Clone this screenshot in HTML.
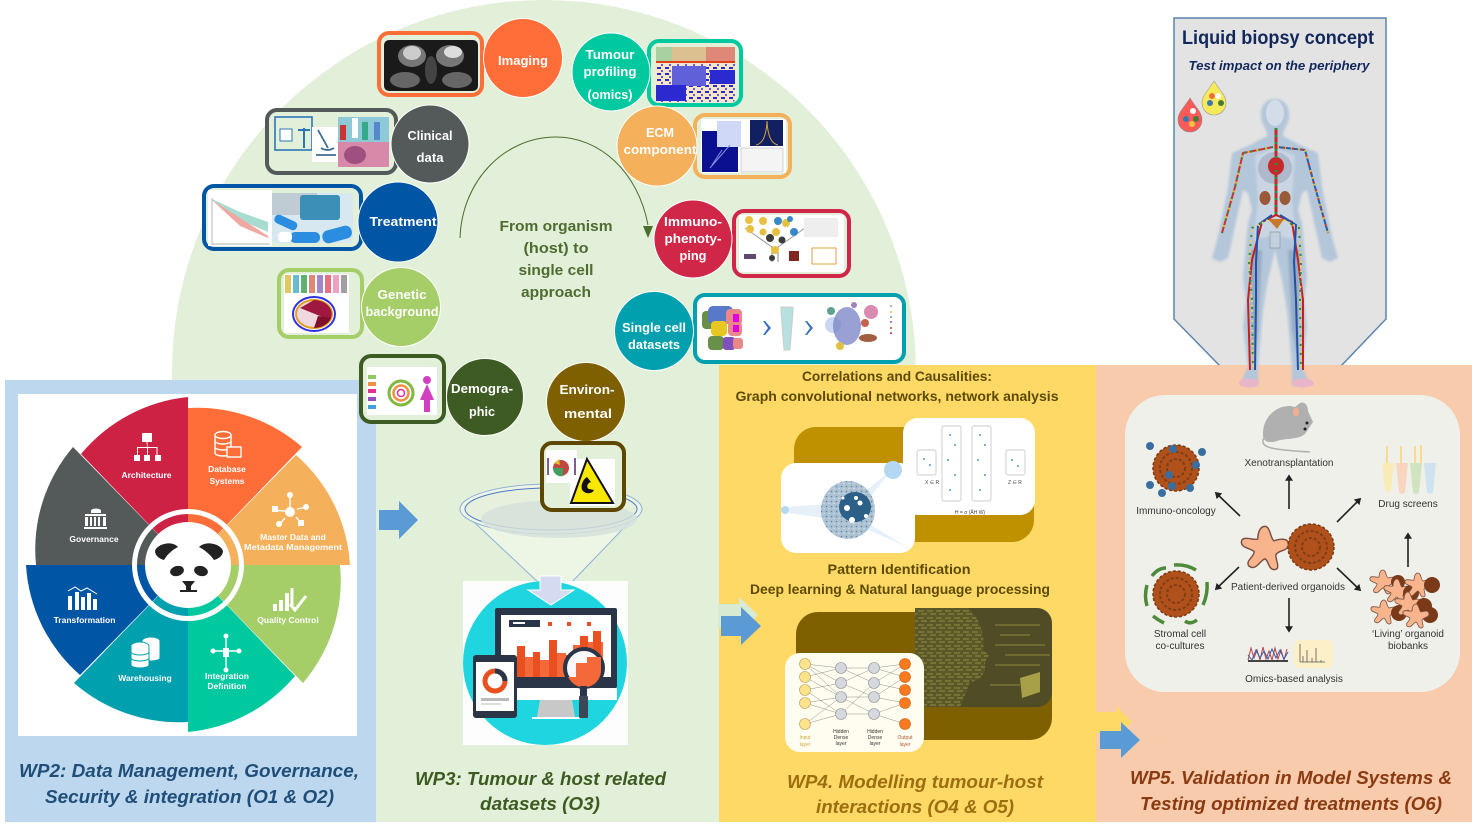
<!DOCTYPE html>
<html><head><meta charset="utf-8"><style>
html,body{margin:0;padding:0;background:#fff;width:1472px;height:833px;overflow:hidden}
svg{display:block;filter:blur(.35px)}
text{font-family:"Liberation Sans",sans-serif}
.c{fill:#fff;font-weight:bold;font-size:13px;text-anchor:middle}
.w{fill:#fff;font-size:8.5px;font-weight:bold;text-anchor:middle}
.h{font-size:18px;font-weight:bold;font-style:italic;text-anchor:middle}
.y{fill:#5c4a00;font-weight:bold;font-size:14px;text-anchor:middle}
.o{fill:#333;font-size:10px;text-anchor:middle}
</style></head><body>
<svg width="1472" height="833" viewBox="0 0 1472 833" xmlns="http://www.w3.org/2000/svg">
<defs>
<marker id="ah" markerWidth="5" markerHeight="5" refX="3" refY="2.5" orient="auto"><path d="M0 0L4 2.5L0 5Z" fill="#222"/></marker>
<pattern id="hm" width="8" height="6" patternUnits="userSpaceOnUse"><rect width="8" height="6" fill="#f5e6c8"/><rect x="1" y="1" width="4" height="2" fill="#2a2ad0"/><rect x="5" y="4" width="2" height="2" fill="#5c5ce0"/></pattern>
<pattern id="sp" width="5" height="5" patternUnits="userSpaceOnUse"><rect width="5" height="5" fill="#9fb8cc"/><circle cx="1.500" cy="1.500" r=".8" fill="#4f6f88"/><circle cx="4" cy="3.500" r=".6" fill="#dfeaf2"/></pattern>
<pattern id="ci" width="9" height="7" patternUnits="userSpaceOnUse"><rect width="9" height="7" fill="#5a5828"/><path d="M0 2H6M3 5H9" stroke="#a8a048" stroke-width=".8"/></pattern>
<filter id="bb" x="-10%" y="-10%" width="120%" height="120%"><feGaussianBlur stdDeviation="1.200"/></filter>
<g id="org"><circle r="23" fill="#b0501a"/><circle r="23" fill="none" stroke="#7a3a12" stroke-width="1.500" stroke-dasharray="3 2"/><circle r="16" fill="none" stroke="#7f3e14" stroke-width="2" stroke-dasharray="3 2"/><circle r="9" fill="none" stroke="#7f3e14" stroke-width="2" stroke-dasharray="3 2"/></g>
<path id="star" d="M0-12C3-12 3-5 5-4C8-5 13-6 13-2C13 2 7 1 6 4C6 7 9 12 5 12C2 12 2 7 0 6C-3 7-5 13-9 10C-11 7-6 5-6 2C-8 0-14 0-13-4C-12-7-6-4-4-5C-4-8-3-12 0-12Z" fill="#f8b48c" stroke="#7a5040" stroke-width=".8"/>
</defs>
<rect width="1472" height="833" fill="#fff"/>
<circle cx="544" cy="372" r="372" fill="#e2efd9"/>
<rect x="376" y="370" width="343" height="452" fill="#e2efd9"/>
<rect x="5" y="380" width="371" height="442" fill="#bdd7ee"/>
<rect x="719" y="365" width="377" height="457" fill="#ffd966"/>
<rect x="1096" y="365" width="376" height="457" fill="#f8cbad"/>

<!-- WP2 wheel -->
<rect x="18" y="394" width="339" height="342" fill="#fff"/>
<path d="M188 565L188 408A160 160 0 0 1 302 447Z" fill="#ff6e39"/>
<path d="M188 565L296 455A158 158 0 0 1 350 565Z" fill="#f4b05a"/>
<path d="M188 565L340 565A158 158 0 0 1 303 683Z" fill="#a5cd68"/>
<path d="M188 565L295 676A160 160 0 0 1 188 732Z" fill="#00c9a0"/>
<path d="M188 565L188 722A160 160 0 0 1 74 683Z" fill="#00a0ae"/>
<path d="M188 565L80 675A158 158 0 0 1 26 565Z" fill="#0055a5"/>
<path d="M188 565L36 565A158 158 0 0 1 73 447Z" fill="#54595a"/>
<path d="M188 565L81 454A160 160 0 0 1 188 397Z" fill="#cd2244"/>
<circle cx="188" cy="565" r="53.500" fill="none" stroke="#fff" stroke-width="5"/>
<circle cx="188" cy="565" r="43" fill="#fff"/>
<path d="M155 551C157 544 172 540 178 547C174 549 168 553 164 560C160 559 155 556 155 551Z" fill="#222"/>
<path d="M223 551C221 544 206 540 199 547C203 549 209 553 214 560C218 559 223 556 223 551Z" fill="#222"/>
<ellipse cx="177" cy="571" rx="7" ry="5" fill="#222" transform="rotate(-15 177 571)"/>
<ellipse cx="201" cy="571" rx="7" ry="5" fill="#222" transform="rotate(15 201 571)"/>
<path d="M182 581H195L191 586V590H197V592H180V590H186V586Z" fill="#222"/>
<g fill="#fff">
<rect x="142" y="433" width="10" height="9"/><rect x="134" y="455" width="6" height="6"/><rect x="144" y="455" width="6" height="6"/><rect x="155" y="455" width="6" height="6"/>
<path d="M146.500 442h1v5h10v8h-1v-7h-8.500v7h-1v-7h-9v7h-1v-8h10z"/>
<path d="M91 510a9 9 0 0 1 10 0v3H91zM85 514h21v2H85zM85 517h3v9h-3zM90 517h2v9h-2zM94 517h2v9h-2zM98 517h2v9h-2zM103 517h3v9h-3zM84 527h23v2H84z"/>
<rect x="68" y="596" width="4" height="14"/><rect x="75" y="592" width="4" height="18"/><rect x="81" y="597" width="4" height="13"/><rect x="87" y="593" width="4" height="17"/><rect x="93" y="599" width="4" height="11"/>
<rect x="273" y="604" width="4" height="7"/><rect x="279" y="600" width="4" height="11"/><rect x="285" y="593" width="4" height="18"/>
</g>
<path d="M68 591L75 587L81 591L87 588L97 594" fill="none" stroke="#fff" stroke-width="1"/>
<path d="M290 604L295 610L306 596" fill="none" stroke="#fff" stroke-width="3"/>
<path d="M292 588V605" stroke="#fff" stroke-width="3"/>
<g fill="none" stroke="#fff" stroke-width="1.400">
<ellipse cx="223" cy="435" rx="8" ry="3.500"/><path d="M215 435V453A8 3 0 0 0 231 453V435M215 441A8 3 0 0 0 231 441M215 447A8 3 0 0 0 231 447"/>
<rect x="227" y="447" width="14" height="10" fill="#ff6e39"/>
<path d="M290 495V510M272 510L285 511M297 509L307 507M285 518L279 525M296 517L301 523"/>
<path d="M226 635V671M211 651H240"/>
</g>
<g fill="#fff">
<circle cx="290" cy="512" r="5"/><circle cx="290" cy="495" r="3"/><rect x="272" y="506" width="6" height="6"/><circle cx="306" cy="507" r="3"/><circle cx="279" cy="524" r="3"/><rect x="298" y="520" width="6" height="6"/>
<rect x="223" y="648" width="6" height="9"/><circle cx="226" cy="636" r="2.500"/><circle cx="226" cy="670" r="2.500"/><circle cx="213" cy="651" r="2.500"/><circle cx="239" cy="651" r="2.500"/>
</g>
<g fill="#fff" stroke="#00a0ae" stroke-width="1"><ellipse cx="151" cy="641" rx="9" ry="4"/><path d="M142 641V658A9 3 0 0 0 160 658V641"/><ellipse cx="140" cy="646" rx="9" ry="4"/><path d="M131 646V665A9 3 0 0 0 149 665V646"/><path d="M131 652A9 3 0 0 0 149 652M131 658A9 3 0 0 0 149 658" fill="none"/></g>
<text class="w" x="146.500" y="478">Architecture</text>
<text class="w" x="227" y="472">Database</text><text class="w" x="227" y="484">Systems</text>
<text class="w" x="293" y="540">Master Data and</text><text class="w" x="293" y="550" textLength="98" lengthAdjust="spacingAndGlyphs">Metadata Management</text>
<text class="w" x="288" y="623">Quality Control</text>
<text class="w" x="227" y="679">Integration</text><text class="w" x="227" y="689">Definition</text>
<text class="w" x="145" y="681">Warehousing</text>
<text class="w" x="84.500" y="623">Transformation</text>
<text class="w" x="94" y="542">Governance</text>

<!-- thumbnails top -->
<rect x="379" y="33" width="103" height="62" rx="10" fill="#e2efd9" stroke="#ff6e39" stroke-width="4"/>
<rect x="384" y="40" width="94" height="51" rx="5" fill="#1a1a1a"/>
<ellipse cx="412" cy="56" rx="14" ry="11" fill="#777"/><ellipse cx="412" cy="53" rx="9" ry="7" fill="#ccc"/>
<ellipse cx="450" cy="56" rx="14" ry="11" fill="#777"/><ellipse cx="453" cy="52" rx="9" ry="6" fill="#ddd"/>
<ellipse cx="405" cy="80" rx="15" ry="8" fill="#666"/><ellipse cx="457" cy="80" rx="15" ry="8" fill="#666"/><ellipse cx="431" cy="70" rx="6" ry="14" fill="#444"/>

<rect x="267" y="110" width="129" height="63" rx="10" fill="#e2efd9" stroke="#54595a" stroke-width="4"/>
<rect x="275" y="117" width="37" height="33" fill="#e2efd9" stroke="#2e75b6" stroke-width="1.600"/><rect x="280" y="129" width="12" height="12" fill="#fff" stroke="#2e75b6"/><path d="M298 130H310M304 128V148" stroke="#2e75b6" stroke-width="2"/>
<rect x="312" y="127" width="27" height="35" fill="#fff"/><path d="M318 130L328 148M316 155H336M321 148A10 8 0 0 0 334 148" fill="none" stroke="#3b6e94" stroke-width="1.800"/>
<rect x="338" y="117" width="51" height="25" fill="#8ec9d8"/><rect x="340" y="125" width="6" height="15" fill="#c33"/><rect x="352" y="118" width="6" height="20" fill="#fff"/><rect x="362" y="122" width="6" height="18" fill="#3a8"/><rect x="374" y="122" width="6" height="18" fill="#58c"/>
<rect x="338" y="142" width="51" height="25" fill="#d888a8"/><ellipse cx="355" cy="155" rx="11" ry="9" fill="#a05080"/>

<rect x="204" y="186" width="157" height="63" rx="10" fill="#e2efd9" stroke="#0055a5" stroke-width="4"/>
<rect x="208" y="190" width="64" height="56" fill="#fff"/>
<path d="M212 199L240 212L268 222L268 232L240 220L212 200Z" fill="#a8dcd0"/><path d="M212 200L240 218L268 236L268 238L240 226Z" fill="#f0a8a0"/>
<path d="M212 198V244H270M270 220" fill="none" stroke="#999" stroke-width=".7"/>
<rect x="272" y="193" width="81" height="50" rx="3" fill="#d8e8f0"/><rect x="272" y="193" width="45" height="22" fill="#c0ccd4"/><rect x="300" y="195" width="40" height="25" rx="3" fill="#3c90b8"/>
<rect x="274" y="218" width="24" height="9" rx="4" fill="#2a8de0" transform="rotate(25 286 222)"/><rect x="290" y="232" width="30" height="11" rx="5" fill="#2a8de0"/><rect x="322" y="228" width="30" height="13" rx="6" fill="#2a8de0" transform="rotate(-15 337 234)"/><rect x="278" y="232" width="14" height="10" rx="4" fill="#fff"/>

<rect x="279" y="270" width="83" height="67" rx="10" fill="#e2efd9" stroke="#a5cd68" stroke-width="4"/>
<rect x="284" y="274" width="65" height="59" fill="#fff"/>
<g><rect x="285" y="275" width="6" height="18" fill="#e0c860"/><rect x="293" y="275" width="6" height="18" fill="#68bcd0"/><rect x="301" y="275" width="6" height="18" fill="#60b070"/><rect x="309" y="275" width="6" height="18" fill="#e08878"/><rect x="317" y="275" width="6" height="18" fill="#a088c8"/><rect x="325" y="275" width="6" height="18" fill="#e87080"/><rect x="333" y="275" width="6" height="18" fill="#f0a0c0"/><rect x="341" y="275" width="6" height="18" fill="#a0a0a0"/></g>
<ellipse cx="314" cy="314" rx="21" ry="17" fill="#fff" stroke="#3030e0" stroke-width="2"/><ellipse cx="314" cy="314" rx="18" ry="14" fill="#f0d8e0" stroke="#e0a020" stroke-width="2"/><path d="M314 300A18 14 0 0 1 330 320L300 308Z" fill="#a01840"/><path d="M314 328A18 14 0 0 0 331 318L318 316Z" fill="#80102c"/>

<rect x="361" y="356" width="83" height="66" rx="10" fill="#e2efd9" stroke="#3e5b24" stroke-width="4"/>
<rect x="367" y="367" width="70" height="48" fill="#fff"/>
<rect x="368" y="375" width="8" height="4" fill="#90c860"/><rect x="368" y="382" width="8" height="4" fill="#f09040"/><rect x="368" y="389" width="8" height="4" fill="#e03090"/><rect x="368" y="397" width="8" height="4" fill="#9050c0"/><rect x="368" y="405" width="8" height="4" fill="#40a0e0"/>
<circle cx="401" cy="393" r="12" fill="none" stroke="#80b840" stroke-width="3"/><circle cx="401" cy="393" r="7.500" fill="none" stroke="#f09040" stroke-width="2.500"/><circle cx="401" cy="393" r="3.500" fill="none" stroke="#e03090" stroke-width="1.500"/>
<circle cx="427" cy="380" r="4" fill="#d040c0"/><path d="M427 384L434 400H430V412H424V400H420Z" fill="#d040c0"/>

<rect x="649" y="41" width="92" height="64" rx="10" fill="#e2efd9" stroke="#00c9a0" stroke-width="4"/>
<rect x="656" y="47" width="79" height="55" rx="3" fill="url(#hm)"/>
<rect x="656" y="47" width="16" height="14" fill="#a8d0a0"/><rect x="672" y="47" width="34" height="14" fill="#dcc090"/><rect x="706" y="47" width="29" height="14" fill="#e08878"/><rect x="656" y="61" width="79" height="2" fill="#e04020"/>
<rect x="672" y="66" width="34" height="20" fill="#6060d8"/><rect x="656" y="85" width="30" height="16" fill="#2a2ad0"/><rect x="710" y="70" width="25" height="14" fill="#2a2ad0"/>

<rect x="695" y="115" width="95" height="62" rx="10" fill="#e2efd9" stroke="#f4b05a" stroke-width="4"/>
<rect x="701" y="119" width="85" height="54" fill="#fff"/>
<rect x="702" y="131" width="36" height="41" fill="#0a1090"/><rect x="717" y="121" width="24" height="26" fill="#d0d8f8"/><rect x="750" y="120" width="33" height="26" fill="#102060"/><rect x="741" y="148" width="42" height="24" fill="#f4f4f4" stroke="#aaa" stroke-width=".5"/>
<path d="M710 168L730 145M712 165L722 150" stroke="#8090e0" stroke-width="1"/><path d="M756 145Q766 143 767 121Q768 143 778 145" fill="none" stroke="#d8a040" stroke-width="1"/>

<rect x="734" y="211" width="115" height="65" rx="10" fill="#e2efd9" stroke="#d02748" stroke-width="4"/>
<rect x="739" y="215" width="105" height="57" fill="#fff"/>
<path d="M745 228L772 247H778L805 228" fill="none" stroke="#999" stroke-width="1"/><path d="M772 247V262M778 247V262" stroke="#888"/>
<g fill="#e8c040"><circle cx="749" cy="220" r="4"/><circle cx="763" cy="221" r="4"/><circle cx="750" cy="229" r="4"/><circle cx="763" cy="232" r="3.500"/><circle cx="776" cy="232" r="4"/><circle cx="786" cy="223" r="4"/><circle cx="775" cy="250" r="4"/></g>
<g fill="#3888c8"><circle cx="778" cy="221" r="4"/><circle cx="794" cy="232" r="4"/><circle cx="790" cy="219" r="3"/></g>
<g fill="#3c3c3c"><circle cx="770" cy="238" r="4"/><circle cx="782" cy="240" r="3.500"/><circle cx="772" cy="258" r="3"/></g>
<rect x="744" y="254" width="12" height="5" fill="#604870"/><rect x="789" y="251" width="10" height="10" fill="#802820"/><rect x="812" y="248" width="24" height="16" fill="#fff" stroke="#e0a040"/><rect x="804" y="218" width="34" height="19" fill="#eee"/>

<rect x="695" y="295" width="209" height="67" rx="10" fill="#fff" stroke="#00a0ae" stroke-width="4"/>
<rect x="702" y="311" width="14" height="18" rx="4" fill="#689048"/><rect x="708" y="306" width="18" height="18" rx="5" fill="#5878c8"/><rect x="718" y="306" width="15" height="18" rx="5" fill="#5878c8"/><rect x="726" y="309" width="16" height="16" rx="4" fill="#e88888"/><rect x="733" y="314" width="6" height="8" fill="#e000e0"/>
<rect x="711" y="321" width="16" height="15" rx="4" fill="#e8c820"/><rect x="728" y="322" width="14" height="14" rx="4" fill="#e88888"/><rect x="733" y="325" width="6" height="7" fill="#e000e0"/><rect x="708" y="336" width="16" height="14" rx="4" fill="#689048"/><rect x="723" y="337" width="12" height="13" rx="3" fill="#8050c0"/><rect x="733" y="338" width="10" height="11" rx="3" fill="#e88888"/>
<path d="M763 321L768 328L763 335H765L771 328L765 321Z" fill="#3870c0"/><path d="M805 321L810 328L805 335H807L813 328L807 321Z" fill="#3870c0"/>
<path d="M781 307H793V312L790 350H784L781 312Z" fill="#b8e0e0" stroke="#ccc"/>
<circle cx="833" cy="325" r="8" fill="#c8d8f0"/><ellipse cx="847" cy="326" rx="14" ry="19" fill="#8088c8" opacity=".8"/><circle cx="831" cy="311" r="4" fill="#60a090"/><circle cx="854" cy="305" r="3" fill="#a080c0"/><circle cx="871" cy="312" r="7" fill="#d88ab0"/><circle cx="865" cy="323" r="4" fill="#c86050"/><ellipse cx="868" cy="338" rx="9" ry="4" fill="#a06040"/><circle cx="840" cy="346" r="4" fill="#e0c040"/>
<g fill="#99b"><circle cx="891" cy="306" r="1"/></g><g fill="#e0c040"><circle cx="891" cy="312" r="1"/></g><g fill="#60a090"><circle cx="891" cy="317" r="1"/></g><g fill="#8050c0"><circle cx="891" cy="322" r="1"/></g><g fill="#c04040"><circle cx="891" cy="328" r="1"/></g><g fill="#a030a0"><circle cx="891" cy="333" r="1"/></g>

<!-- circles -->
<g stroke="#fff" stroke-width="1">
<circle cx="523" cy="58" r="39.500" fill="#ff6e39"/>
<circle cx="430" cy="144" r="39" fill="#54595a"/>
<circle cx="398" cy="222" r="40" fill="#0055a5"/>
<circle cx="401" cy="307" r="39.500" fill="#a5cd68"/>
<circle cx="485" cy="397" r="38.500" fill="#3e5b24"/>
<circle cx="611" cy="72" r="39" fill="#00c9a0"/>
<circle cx="657" cy="146" r="40" fill="#f4b05a"/>
<circle cx="693" cy="239" r="39" fill="#d02748"/>
<circle cx="654" cy="331" r="39.500" fill="#00a0ae"/>
<circle cx="586" cy="402" r="39.500" fill="#7f6000"/>
</g>
<text class="c" x="523" y="65" textLength="50" lengthAdjust="spacingAndGlyphs">Imaging</text>
<text class="c" x="430" y="140" textLength="45" lengthAdjust="spacingAndGlyphs">Clinical</text><text class="c" x="430" y="162" textLength="27" lengthAdjust="spacingAndGlyphs">data</text>
<text class="c" x="403" y="226" textLength="67" lengthAdjust="spacingAndGlyphs">Treatment</text>
<text class="c" x="402" y="299" textLength="49" lengthAdjust="spacingAndGlyphs">Genetic</text><text class="c" x="402" y="316" textLength="73" lengthAdjust="spacingAndGlyphs">background</text>
<text class="c" x="482" y="393" textLength="62" lengthAdjust="spacingAndGlyphs">Demogra-</text><text class="c" x="482" y="416" textLength="26" lengthAdjust="spacingAndGlyphs">phic</text>
<text class="c" x="587" y="394" textLength="55" lengthAdjust="spacingAndGlyphs">Environ-</text><text class="c" x="588" y="418" textLength="48" lengthAdjust="spacingAndGlyphs">mental</text>
<text class="c" x="610" y="59" textLength="49" lengthAdjust="spacingAndGlyphs">Tumour</text><text class="c" x="610" y="76" textLength="53" lengthAdjust="spacingAndGlyphs">profiling</text><text class="c" x="610" y="99" textLength="45" lengthAdjust="spacingAndGlyphs">(omics)</text>
<text class="c" x="660" y="137" textLength="28" lengthAdjust="spacingAndGlyphs">ECM</text><text class="c" x="660" y="154" textLength="73" lengthAdjust="spacingAndGlyphs">component</text>
<text class="c" x="693" y="226" textLength="58" lengthAdjust="spacingAndGlyphs">Immuno-</text><text class="c" x="693" y="243" textLength="57" lengthAdjust="spacingAndGlyphs">phenoty-</text><text class="c" x="693" y="260" textLength="27" lengthAdjust="spacingAndGlyphs">ping</text>
<text class="c" x="654" y="332" textLength="64" lengthAdjust="spacingAndGlyphs">Single cell</text><text class="c" x="654" y="349" textLength="52" lengthAdjust="spacingAndGlyphs">datasets</text>

<!-- arc -->
<path d="M460 238C462 180 505 137 556 137C600 137 638 172 648 225" fill="none" stroke="#4e6e2e" stroke-width="1"/>
<path d="M643 226L653 226L648 238Z" fill="#4e6e2e"/>
<g fill="#4e6b30" font-weight="bold" font-size="15px" text-anchor="middle">
<text x="556" y="231" textLength="113" lengthAdjust="spacingAndGlyphs">From organism</text>
<text x="556" y="253" textLength="65" lengthAdjust="spacingAndGlyphs">(host) to</text>
<text x="556" y="275" textLength="75" lengthAdjust="spacingAndGlyphs">single cell</text>
<text x="556" y="297" textLength="70" lengthAdjust="spacingAndGlyphs">approach</text>
</g>

<!-- funnel -->
<path d="M460 509L540 584H570L642 509Z" fill="#edf5e5" stroke="#8fb0d8" stroke-width="1"/>
<ellipse cx="551" cy="509" rx="91" ry="25" fill="#edf5e5" stroke="#8fb0d8"/>
<ellipse cx="551" cy="509" rx="86" ry="21" fill="#e6f0dd" stroke="#4f79c8"/>
<ellipse cx="559" cy="519" rx="78" ry="19" fill="#d5e0da" opacity=".85"/>
<rect x="463" y="581" width="165" height="164" fill="#fdfdfd"/>
<circle cx="545" cy="663" r="82" fill="#1fd6e0"/>
<path d="M540 576H561V590H574L551 605L528 590H540Z" fill="#d4daf0" stroke="#fff"/>
<rect x="495" y="608" width="122" height="80" rx="2" fill="#2a3648"/>
<rect x="501" y="615" width="110" height="62" fill="#fff"/>
<rect x="495" y="688" width="122" height="12" fill="#fff"/>
<path d="M540 700H572L575 717H537Z" fill="#c8c8c8"/><rect x="532" y="717" width="48" height="2" fill="#fff"/>
<rect x="509" y="620" width="31" height="7" fill="#2a3648"/><rect x="513" y="622" width="12" height="2" fill="#fff"/>
<rect x="548" y="622" width="4" height="4" fill="#e85020"/><rect x="567" y="622" width="4" height="4" fill="#e85020"/><rect x="587" y="622" width="4" height="4" fill="#e85020"/>
<path d="M517 646h8v31h-8zM533 652h7v25h-7zM549 640h8v37h-8zM566 655h7v22h-7zM580 636h8v41h-8zM593 631h8v46h-8z" fill="#e85020"/><path d="M525 657h8v20h-8zM540 660h9v17h-9zM557 653h9v24h-9zM573 645h7v32h-7zM588 642h5v35h-5zM601 642h2v35h-2z" fill="#f4683a"/>
<circle cx="584" cy="668" r="19" fill="#f8f8f8" stroke="#2a3648" stroke-width="4"/><path d="M568 677H576V663H587V657H601V670A17 17 0 0 1 570 680Z" fill="#f4683a"/>
<rect x="579" y="696" width="9" height="22" rx="1" fill="#3c4858"/><rect x="580" y="686" width="7" height="10" fill="#2a3648"/>
<rect x="473" y="655" width="44" height="63" rx="3" fill="#2a3648"/><rect x="476" y="662" width="38" height="49" fill="#fff"/>
<circle cx="495" cy="681" r="10" fill="none" stroke="#e85020" stroke-width="5"/><path d="M495 671A10 10 0 0 1 505 681" fill="none" stroke="#2a3648" stroke-width="5"/>
<rect x="481" y="698" width="28" height="3" fill="#bbb"/><rect x="481" y="703" width="20" height="2" fill="#ddd"/>

<rect x="542" y="443" width="82" height="67" rx="10" fill="#e2efd9" stroke="#5e4700" stroke-width="4"/>
<rect x="546" y="450" width="31" height="33" fill="#fff"/><rect x="570" y="459" width="45" height="47" fill="#fff"/>
<circle cx="561" cy="468" r="8" fill="#c04840"/><path d="M553 468H563V476A8 8 0 0 1 553 468Z" fill="#40a060"/><path d="M554 463L559 459L560 465Z" fill="#e0c030"/><path d="M548 458V475M575 458V475" stroke="#806090" stroke-width="2"/>
<path d="M587 459L613 503H571Z" fill="#f8e800" stroke="#111" stroke-width="2"/><path d="M587 477C582 480 580 488 583 491C587 495 593 493 594 490L589 489C586 488 587 483 591 482Z" fill="#111"/>

<!-- arrows -->
<path d="M379 510H399V501L418 520L399 539V530H379Z" fill="#5b9bd5"/>
<path d="M718 604H739V597L758 615L739 634V627H718Z" fill="#d9ead3"/>
<path d="M721 616H741V607L761 626L741 645V636H721Z" fill="#5b9bd5"/>
<path d="M1096 712H1116V706L1132 722L1116 738V733H1096Z" fill="#ffd966"/>
<path d="M1100 731H1121V722L1140 740L1121 758V749H1100Z" fill="#5b9bd5"/>

<!-- WP4 -->
<rect x="794" y="427" width="240" height="115" rx="22" fill="#bf9000"/>
<rect x="903" y="418" width="132" height="97" rx="15" fill="#fff"/>
<rect x="781" y="463" width="134" height="90" rx="15" fill="#fff"/>
<g fill="none" stroke="#bbb" stroke-width=".7"><rect x="917" y="450" width="19" height="25" rx="2"/><rect x="942" y="426" width="19" height="75" rx="2"/><rect x="972" y="426" width="19" height="75" rx="2"/><rect x="1006" y="450" width="19" height="25" rx="2"/></g>
<g fill="#4a9ac8"><circle cx="924" cy="459" r="1"/><circle cx="930" cy="465" r="1"/><circle cx="950" cy="435" r="1"/><circle cx="955" cy="445" r="1"/><circle cx="948" cy="460" r="1"/><circle cx="955" cy="475" r="1"/><circle cx="950" cy="490" r="1"/><circle cx="980" cy="435" r="1"/><circle cx="985" cy="445" r="1"/><circle cx="978" cy="460" r="1"/><circle cx="985" cy="475" r="1"/><circle cx="980" cy="490" r="1"/><circle cx="1012" cy="460" r="1"/><circle cx="1018" cy="466" r="1"/></g>
<text x="925" y="484" font-size="5px" fill="#444">X ∈ R</text><text x="1008" y="484" font-size="5px" fill="#444">Z ∈ R</text><text x="970" y="514" font-size="5px" fill="#444" text-anchor="middle">H = σ (ÂH W)</text>
<path d="M783 507L850 503L892 470L855 515L905 546L850 522L783 512Z" fill="#cfe3f3" opacity=".55"/>
<circle cx="893" cy="470" r="9" fill="#b5d8f2"/><circle cx="785" cy="510" r="4" fill="#b5d8f2"/>
<ellipse cx="848" cy="510" rx="27" ry="29" fill="url(#sp)" opacity=".85"/><ellipse cx="855" cy="507" rx="16" ry="15" fill="#2c6088"/><circle cx="847" cy="508" r="3" fill="#fff"/><circle cx="852" cy="520" r="3" fill="#fff"/><circle cx="860" cy="503" r="2.500" fill="#fff"/><circle cx="866" cy="516" r="2" fill="#fff"/><circle cx="856" cy="498" r="2" fill="#fff"/><circle cx="843" cy="498" r="1.500" fill="#fff"/>

<rect x="796" y="612" width="256" height="128" rx="22" fill="#7f6000"/>
<rect x="915" y="608" width="137" height="99" rx="15" fill="#4f4c26"/>
<path d="M915 608H968C982 620 985 640 983 650L989 655L985 662C986 672 982 680 970 682L960 707H923Q915 707 915 700Z" fill="url(#ci)"/>
<g stroke="#b8ae50" stroke-width=".8" opacity=".8"><path d="M995 625H1040M995 645H1045M995 665H1040M990 685H1020M1000 635H1030M1005 655H1050"/></g>
<path d="M1020 678L1040 672V692L1022 698Z" fill="#a8a048"/>
<rect x="785" y="653" width="139" height="99" rx="15" fill="#fffdf0"/>
<g stroke="#777" stroke-width=".4">
<path d="M805 664L841 668M805 664L841 683M805 664L841 697M805 677L841 668M805 677L841 697M805 690L841 683M805 690L841 714M805 703L841 697M805 703L841 714M805 724L841 697M805 724L841 714M841 668L874 668M841 668L874 683M841 683L874 668M841 683L874 697M841 697L874 697M841 697L874 714M841 714L874 714M841 714L874 683M874 668L905 664M874 668L905 677M874 683L905 690M874 683L905 664M874 697L905 703M874 697L905 677M874 714L905 724M874 714L905 703"/>
</g>
<g fill="#ffe38c" stroke="#b0a060" stroke-width=".6"><circle cx="805" cy="664" r="5.500"/><circle cx="805" cy="677" r="5.500"/><circle cx="805" cy="690" r="5.500"/><circle cx="805" cy="703" r="5.500"/><circle cx="805" cy="724" r="5.500"/></g>
<g fill="#d5d9de" stroke="#8a8f96" stroke-width=".6"><circle cx="841" cy="668" r="5.500"/><circle cx="841" cy="683" r="5.500"/><circle cx="841" cy="697" r="5.500"/><circle cx="841" cy="714" r="5.500"/><circle cx="874" cy="668" r="5.500"/><circle cx="874" cy="683" r="5.500"/><circle cx="874" cy="697" r="5.500"/><circle cx="874" cy="714" r="5.500"/></g>
<g fill="#fb7a20" stroke="#c06010" stroke-width=".6"><circle cx="905" cy="664" r="5.500"/><circle cx="905" cy="677" r="5.500"/><circle cx="905" cy="690" r="5.500"/><circle cx="905" cy="703" r="5.500"/><circle cx="905" cy="724" r="5.500"/></g>
<g font-size="5px" text-anchor="middle"><text x="805" y="739" fill="#c8a840">Input</text><text x="805" y="746" fill="#c8a840">layer</text><text x="841" y="733" fill="#333">Hidden</text><text x="841" y="739" fill="#333">Dense</text><text x="841" y="745" fill="#333">layer</text><text x="875" y="733" fill="#333">Hidden</text><text x="875" y="739" fill="#333">Dense</text><text x="875" y="745" fill="#333">layer</text><text x="905" y="739" fill="#b05830">Output</text><text x="905" y="746" fill="#b05830">layer</text></g>

<text class="y" x="897" y="381" textLength="190" lengthAdjust="spacingAndGlyphs">Correlations and Causalities:</text>
<text class="y" x="897" y="401" textLength="323" lengthAdjust="spacingAndGlyphs">Graph convolutional networks, network analysis</text>
<text class="y" x="899" y="574" textLength="143" lengthAdjust="spacingAndGlyphs">Pattern Identification</text>
<text class="y" x="900" y="594" textLength="300" lengthAdjust="spacingAndGlyphs">Deep learning &amp; Natural language processing</text>

<!-- WP5 panel -->
<rect x="1125" y="395" width="335" height="297" rx="40" fill="#f0f0eb"/>
<path d="M1263 435C1262 416 1280 402 1295 407L1300 403C1305 401 1308 406 1308 411L1313 422L1305 434C1298 440 1285 438 1277 441C1268 444 1263 441 1263 435Z" fill="#b0b0b0"/><path d="M1264 438C1258 448 1275 450 1310 452" fill="none" stroke="#b0b0b0" stroke-width="1.500"/><ellipse cx="1296" cy="412" rx="3" ry="4.500" fill="#f0b090"/><circle cx="1307" cy="423" r="1.500" fill="#222"/><circle cx="1305" cy="429" r="1.500" fill="#222"/>
<use href="#org" x="1176" y="468"/>
<g fill="#3a6ea0"><circle cx="1150" cy="446" r="4"/><circle cx="1173" cy="449" r="4"/><circle cx="1202" cy="452" r="4"/><circle cx="1196" cy="465" r="4"/><circle cx="1169" cy="475" r="4"/><circle cx="1150" cy="485" r="4"/><circle cx="1172" cy="486" r="4"/><circle cx="1190" cy="488" r="4"/><circle cx="1162" cy="493" r="4"/></g>
<use href="#org" x="1176" y="594"/>
<g fill="none" stroke="#4d8a3a" stroke-width="3.500"><path d="M1174 565Q1186 564 1196 570"/><path d="M1207 582Q1208 594 1203 605"/><path d="M1197 620Q1190 625 1185 621"/><path d="M1164 623Q1158 620 1153 616"/><path d="M1147 606Q1144 596 1147 585"/><path d="M1152 576Q1158 568 1166 568"/></g>
<g transform="translate(1265 548) scale(1.800)"><use href="#star"/></g>
<use href="#org" x="1311" y="547"/>
<g><use href="#star" x="1383" y="582"/><circle cx="1398" cy="582" r="7" fill="#7a3a18"/><use href="#star" x="1397" y="591"/><circle cx="1411" cy="593" r="8" fill="#7a3a18"/><use href="#star" x="1418" y="585"/><circle cx="1432" cy="585" r="8" fill="#7a3a18"/><use href="#star" x="1384" y="612"/><circle cx="1399" cy="613" r="8" fill="#7a3a18"/><use href="#star" x="1408" y="604"/><circle cx="1424" cy="606" r="8" fill="#7a3a18"/><circle cx="1430" cy="615" r="8" fill="#7a3a18"/><use href="#star" x="1416" y="616"/></g>
<g opacity=".65"><path d="M1382 463H1394L1391 490Q1388 495 1385 490Z" fill="#ffe99a"/><path d="M1396 463H1408L1405 492Q1402 496 1399 492Z" fill="#fbc8a8"/><path d="M1410 463H1422L1419 492Q1416 496 1413 492Z" fill="#bfe0a8"/><path d="M1424 463H1436L1433 492Q1430 496 1427 492Z" fill="#bcdcf4"/><path d="M1387 463V446M1401 463V446M1415 463V446M1421 463V445" stroke="#ffd060" stroke-width="2"/></g>
<g stroke="#222" stroke-width="1.600" marker-end="url(#ah)">
<path d="M1240 516L1216 493"/><path d="M1289 509L1289 476"/><path d="M1337 522L1360 499"/><path d="M1239 567L1216 589"/><path d="M1289 598L1289 631"/><path d="M1337 568L1360 590"/><path d="M1408 567L1408 534"/>
</g>
<rect x="1294" y="640" width="39" height="28" rx="5" fill="#fdf0c8"/>
<path d="M1300 662V644M1303 662V656M1307 662V650M1312 662V658M1316 662V648M1321 662V660M1300 662H1325" stroke="#555" stroke-width=".8"/>
<path d="M1248 660L1251 648L1254 658L1257 650L1260 660L1263 647L1266 659L1269 651L1272 660L1275 648L1278 659L1281 650L1284 660L1287 649" fill="none" stroke="#c04040" stroke-width="1"/><path d="M1248 655L1252 660L1256 650L1260 658L1264 651L1268 659L1272 649L1276 658L1280 650L1284 659L1288 652" fill="none" stroke="#3060b0" stroke-width="1"/><rect x="1248" y="660" width="40" height="2" fill="#444"/>
<text class="o" x="1176" y="514">Immuno-oncology</text>
<text class="o" x="1289" y="466">Xenotransplantation</text>
<text class="o" x="1408" y="507">Drug screens</text>
<text class="o" x="1288" y="590">Patient-derived organoids</text>
<text class="o" x="1180" y="637">Stromal cell</text><text class="o" x="1180" y="649">co-cultures</text>
<text class="o" x="1408" y="637">‘Living’ organoid</text><text class="o" x="1408" y="649">biobanks</text>
<text class="o" x="1294" y="682">Omics-based analysis</text>

<!-- Liquid biopsy -->
<path d="M1174 18H1386V319L1341 366H1220L1174 319Z" fill="#e3e3e3" stroke="#5b84ae" stroke-width="1.500"/>
<rect x="1096" y="365" width="376" height="24" fill="#f8cbad"/>
<text x="1278" y="44" font-size="19.500px" font-weight="bold" fill="#12285c" text-anchor="middle" textLength="192" lengthAdjust="spacingAndGlyphs">Liquid biopsy concept</text>
<text x="1279" y="70" font-size="13px" font-weight="bold" font-style="italic" fill="#12285c" text-anchor="middle" textLength="181" lengthAdjust="spacingAndGlyphs">Test impact on the periphery</text>
<path d="M1190 98C1184 108 1178 112 1178 120A12 12 0 0 0 1202 120C1202 112 1196 108 1190 98Z" fill="#ff5a5a" stroke="#888" stroke-width=".6"/>
<circle cx="1193" cy="111" r="3" fill="#fff"/><circle cx="1186" cy="119" r="3" fill="#3878b0"/><circle cx="1196" cy="119" r="3" fill="#4a7a3a"/><circle cx="1192" cy="124" r="3" fill="#f4c040"/>
<path d="M1214 81C1208 91 1202 95 1202 103A12 12 0 0 0 1226 103C1226 95 1220 91 1214 81Z" fill="#f6e95a" stroke="#999" stroke-width=".6"/>
<circle cx="1212" cy="96" r="3" fill="#f07030"/><circle cx="1218" cy="96" r="3" fill="#fff"/><circle cx="1210" cy="103" r="3" fill="#3878b0"/><circle cx="1221" cy="103" r="3" fill="#4a7a3a"/>

<!-- body -->
<g>
<path filter="url(#bb)" d="M1275 99C1288 99 1291 112 1288 122C1286 128 1283 130 1283 136L1300 145L1318 153L1322 187L1332 237L1338 258L1330 262L1322 258L1318 240L1307 190L1302 193L1298 210L1302 223L1307 277L1304 300L1307 327L1302 367L1310 384L1292 386L1292 367L1287 310L1282 280L1275 250L1268 280L1263 310L1258 367L1258 386L1240 384L1248 367L1243 327L1246 300L1243 277L1248 223L1252 210L1248 193L1243 190L1232 240L1228 258L1220 262L1212 258L1218 237L1228 187L1232 153L1250 145L1267 136C1267 130 1264 128 1262 122C1259 112 1262 99 1275 99Z" fill="#b4c6da"/>
<path filter="url(#bb)" d="M1275 148L1295 155L1292 200L1296 240L1275 235L1254 240L1258 200L1255 155Z" fill="#c9d5e3"/>
<path filter="url(#bb)" d="M1250 250L1262 250L1258 330L1252 360ZM1300 250L1288 250L1292 330L1298 360Z" fill="#7f99b8" opacity=".6"/>
<ellipse cx="1275" cy="113" rx="9" ry="13" fill="#d3dde9"/>
<ellipse cx="1275" cy="168" rx="17" ry="16" fill="#9ea6be" opacity=".6"/>
<ellipse cx="1265" cy="198" rx="5.500" ry="7" fill="#9a5a3a"/><ellipse cx="1285" cy="198" rx="5.500" ry="7" fill="#9a5a3a"/>
<ellipse cx="1276" cy="166" rx="8" ry="9" fill="#c52a2a"/>
<path d="M1268 219H1284L1277 229Z" fill="#c8782a"/>
<path d="M1270 232H1280V248H1270Z" fill="#c5d0de" stroke="#8899aa" stroke-width=".7"/>
<g fill="none" stroke-width="2">
<path d="M1273 147L1243 153L1235 187L1222 233" stroke="#d03030"/>
<path d="M1273 147L1243 153L1235 187L1222 233" stroke="#2e8b40" stroke-dasharray="2 5"/>
<path d="M1273 147L1243 153L1235 187L1222 233" stroke="#e8c020" stroke-dasharray="2 7" stroke-dashoffset="3"/>
<path d="M1277 147L1305 150L1313 180L1328 233" stroke="#2060b0"/>
<path d="M1277 147L1305 150L1313 180L1328 233" stroke="#e8c020" stroke-dasharray="2 5"/>
<path d="M1277 147L1305 150L1313 180L1328 233" stroke="#d03030" stroke-dasharray="2 7" stroke-dashoffset="3"/>
<path d="M1276 128V215" stroke="#c52a2a" stroke-width="3"/>
<path d="M1276 128V215" stroke="#2e8b40" stroke-dasharray="2 5" stroke-width="3"/>
<path d="M1276 215L1262 222L1252 260L1248 300L1250 370" stroke="#c82020"/>
<path d="M1272 215L1258 225L1256 262L1256 300L1255 370" stroke="#2050a8"/>
<path d="M1268 220L1252 228L1249 262L1252 300L1253 370" stroke="#e8d060" stroke-dasharray="2 3"/>
<path d="M1268 220L1252 228L1249 262L1252 300L1253 370" stroke="#2e8b40" stroke-dasharray="2 7" stroke-dashoffset="2"/>
<path d="M1276 215L1292 222L1298 260L1303 300L1303 370" stroke="#c82020"/>
<path d="M1280 215L1296 225L1294 262L1296 300L1298 370" stroke="#2050a8"/>
<path d="M1284 220L1299 228L1301 262L1300 300L1301 370" stroke="#e8d060" stroke-dasharray="2 3"/>
<path d="M1284 220L1299 228L1301 262L1300 300L1301 370" stroke="#2e8b40" stroke-dasharray="2 7" stroke-dashoffset="2"/>
</g>
<ellipse cx="1249" cy="383" rx="10" ry="4.500" fill="#e8b6c8"/><ellipse cx="1303" cy="383" rx="11" ry="4.500" fill="#e8b6c8"/>
</g>

<!-- headings -->
<text class="h" x="189" y="777" fill="#1f4e79" textLength="340" lengthAdjust="spacingAndGlyphs">WP2: Data Management,  Governance,</text>
<text class="h" x="189.500" y="803" fill="#1f4e79" textLength="289" lengthAdjust="spacingAndGlyphs">Security &amp; integration (O1 &amp; O2)</text>
<text class="h" x="540.500" y="785" fill="#3d5a20" textLength="251" lengthAdjust="spacingAndGlyphs">WP3: Tumour &amp; host related</text>
<text class="h" x="540" y="810" fill="#3d5a20" textLength="120" lengthAdjust="spacingAndGlyphs">datasets (O3)</text>
<text class="h" x="915" y="788" fill="#9c6e10" textLength="256" lengthAdjust="spacingAndGlyphs">WP4. Modelling  tumour-host</text>
<text class="h" x="915" y="813" fill="#9c6e10" textLength="198" lengthAdjust="spacingAndGlyphs">interactions (O4 &amp; O5)</text>
<text class="h" x="1291" y="784" fill="#8a3a10" textLength="322" lengthAdjust="spacingAndGlyphs">WP5. Validation in Model Systems &amp;</text>
<text class="h" x="1291" y="810" fill="#8a3a10" textLength="302" lengthAdjust="spacingAndGlyphs">Testing optimized treatments (O6)</text>
</svg>
</body></html>
